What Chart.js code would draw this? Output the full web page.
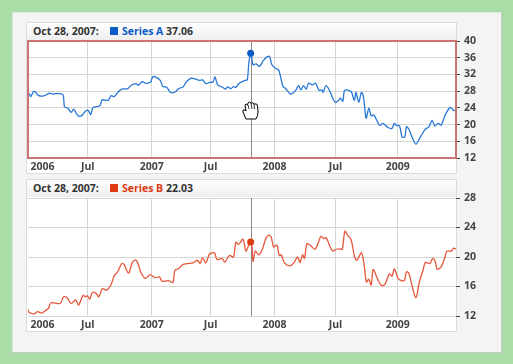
<!DOCTYPE html>
<html lang="en">
<head>
  <meta charset="UTF-8" />
  <title>Series A and B</title>
  <script src="https://cdn.jsdelivr.net/npm/chart.js"></script>
  <style>
    body { margin: 0; background: #aadca8; font-family: 'Open Sans', sans-serif; }
    #page {
      position: absolute; left: 12px; top: 12px; width: 488px; height: 339px;
      background: #f4f4f4; border: 1px solid #e2e6e2; border-right-color: #c8ccc8; border-bottom-color: #c8ccc8;
    }
    .panel { position: absolute; left: 26px; width: 429px; background: #fff; border: 1px solid #dcdcdc; box-sizing: content-box; }
    .head {
      position: absolute; left: 27px; width: 429px; height: 17px; line-height: 17px;
      background: linear-gradient(to bottom, #ffffff, #eeeeee); font-size: 10.5px; font-weight: bold; color: #333;
      white-space: nowrap;
    }
    .head .date { position: absolute; left: 6px; }
    .head .box { position: absolute; left: 83px; top: 4px; width: 8px; height: 8px; }
    .head .name { position: absolute; left: 95px; }
    canvas { position: absolute; left: 0; }
    #hand { position: absolute; left: 242px; top: 100px; }
  </style>
</head>
<body>
  <div id="page"></div>
  <div class="panel" style="top:22px;height:150px"></div>
  <div class="panel" style="top:179px;height:151px"></div>
  <div class="head" style="top:23px">
    <span class="date" id="dateA"></span><span class="box" style="background:#0a5cc8"></span>
    <span class="name"><span style="color:#0a5cc8">Series A</span> <span id="valA"></span></span>
  </div>
  <div class="head" style="top:180px">
    <span class="date" id="dateB"></span><span class="box" style="background:#dd3a12"></span>
    <span class="name"><span style="color:#dd3a12">Series B</span> <span id="valB"></span></span>
  </div>
  <canvas id="chartA" width="500" height="173" style="top:0"></canvas>
  <canvas id="chartB" width="500" height="151" style="top:180px"></canvas>
  <svg id="hand" width="18" height="20" viewBox="0 0 18 20">
    <path d="M4 19 L1 12 Q0 9 3 10 L4 11 L3 5 Q4 3 5.5 5 L6 3 Q7.5 1 9 3 L9.5 3 Q11 2 12 4 L13 4 Q15 3 15.5 6 L16 12 Q16 16 14 19 Z"
      fill="#fff" stroke="#000" stroke-width="1"/>
    <path d="M6 5 L7 9 M9 3 L10 9 M12 4 L12.5 9" stroke="#000" stroke-width="0.8" fill="none"/>
  </svg>

  <script>
    // x values are days counted from 1 Jan 2006
    const cursorDate = 'Oct 28, 2007:';
    const cursorDay = 659;
    const cursorA = 37.06;
    const cursorB = 22.03;

    const tickDays = [41, 175, 365, 540, 730, 911, 1096];
    const tickLabels = ['2006', 'Jul', '2007', 'Jul', '2008', 'Jul', '2009'];
    const ticksA = [12, 16, 20, 24, 28, 32, 36, 40];
    const ticksB = [12, 16, 20, 24, 28];

    const daysA = [-3, 1, 6, 14, 20, 28, 41, 51, 61, 71, 81, 101, 106, 116, 126, 133, 141, 148, 158, 168, 176, 184, 191, 211, 218, 236, 244, 254, 264, 276, 294, 304, 318, 326, 336, 346, 361, 368, 376, 391, 398, 409, 421,
      435, 445, 458, 468, 482, 495, 507, 516, 526, 537, 547, 553, 561, 574, 584, 591, 600, 608, 615, 625, 643, 649, 654, 659, 661, 666, 675, 685, 695, 707, 715, 722, 732, 742, 755, 762, 776, 782, 794, 801, 808, 816, 824, 831, 842,
      852, 862, 871, 874, 883, 893, 903, 911, 921, 926, 933, 938, 950, 958, 967, 972, 980, 988, 994, 1002, 1010, 1017, 1025, 1038, 1044, 1052, 1067, 1079, 1086, 1091, 1101, 1109, 1117, 1122, 1130, 1140, 1150, 1163, 1178, 1188, 1198, 1206, 1216, 1225, 1237, 1252, 1262, 1270];
    const valuesA = [27.1, 27.4, 26.7, 27.9, 27.8, 27, 26.8, 27.1, 27.5, 27.3, 27.4, 27.2, 24.3, 23.9, 22.9, 23.7, 22.7, 22, 22.2, 23.2, 23.4, 22.4, 24.1, 24.5, 25.9, 25.8, 26.9, 26.7, 27.7, 28.5, 28.6, 29.4, 29.8, 29.4, 30.3, 29.9, 30.1, 31.4, 31.4, 30.5, 29.1, 29, 27.7,
      27.8, 28.6, 29, 30.2, 31.1, 30.9, 30.6, 30.7, 29.8, 30.1, 30.2, 31.4, 29.5, 29, 28.5, 29, 28.6, 29.1, 28.9, 29.9, 30.6, 30.7, 35.1, 37.06, 36.9, 34.3, 34.5, 33.9, 35.1, 36.2, 36.3, 34.3, 33.5, 33.1, 29.1, 28.7, 27.4, 27.4, 28.3, 29.4, 28.3, 29.3, 28.5, 29.9, 29.5,
      29.9, 28.2, 28.3, 27.7, 29.3, 28.2, 26.3, 25.3, 25.9, 26.3, 25.6, 28.2, 28.2, 27.9, 25.8, 27.7, 25.3, 27.7, 26.7, 21.5, 23.9, 22.1, 22.3, 20.3, 19.8, 20.3, 19.3, 19.1, 20.3, 19.8, 19.7, 17, 17.1, 19.5, 18.7, 16.7, 15.3, 17, 18.9, 19.4, 21, 19.7, 20.3, 19.9, 22.3, 24.1, 23.4, 23.4];

    const daysB = [-3, 1, 16, 26, 38, 51, 58, 66, 93, 103, 113, 126, 139, 148, 161, 168, 174, 181, 189, 199, 208, 218, 231, 244, 254, 264, 276, 283, 296, 308, 318, 326, 333, 346, 361, 376, 388, 396, 414, 428,
      434, 445, 458, 470, 490, 501, 509, 516, 526, 537, 552, 559, 574, 582, 596, 608, 615, 623, 636, 645, 651, 659, 663, 666, 673, 683, 694, 704, 712, 720, 727, 737, 744, 750, 759, 776, 788, 798, 806, 813, 819, 826, 836,
      850, 860, 868, 876, 884, 893, 903, 913, 923, 931, 939, 948, 957, 968, 975, 988, 995, 1003, 1010, 1017, 1023, 1036, 1049, 1059, 1071, 1079, 1086, 1097, 1107, 1116, 1122, 1129, 1138, 1150, 1160, 1171, 1178, 1191, 1200, 1208, 1213, 1225, 1235, 1242, 1255, 1262, 1270];
    const valuesB = [12.95, 12.5, 12.3, 12.6, 12.4, 12.8, 13, 13.8, 13.7, 14.6, 14.5, 13.7, 14.2, 13.5, 14.8, 14.6, 14.75, 14.3, 15.2, 15.1, 14.6, 15.7, 15.5, 16.2, 17.5, 18, 19.1, 19, 17.8, 19.3, 19.6, 18.9, 17.9, 17.1, 17.6, 17.2, 17.3, 16.7, 16.8, 16.55,
      18.2, 18.4, 19, 19.1, 19.25, 19.56, 19.1, 19.9, 19.2, 20.4, 20.55, 19.65, 19.8, 19.3, 20.2, 20, 22, 21.7, 22.4, 20.8, 21.36, 22.03, 21.4, 19.4, 20.8, 20.3, 21.1, 22.5, 22.95, 22.7, 21.36, 21.6, 20.2, 20.3, 19.25, 18.8, 19.25, 20, 19.25, 20.3, 19.8, 21.8, 21.6,
      21.05, 21.95, 22.8, 22.5, 22.6, 21.6, 20.8, 21.05, 21.1, 21.05, 23.5, 22.9, 22.4, 20, 19.56, 20.6, 19.3, 16.6, 17, 16.2, 18.3, 17, 16.1, 16.4, 17.7, 17.4, 18.4, 17.1, 16.8, 16.86, 18, 17.8, 16.2, 14.5, 16.6, 18.2, 19.25, 19.1, 19.8, 19.3, 18.35, 18.66, 19.8, 20.8, 20.8, 21.2, 21.05];

    document.getElementById('dateA').textContent = cursorDate;
    document.getElementById('dateB').textContent = cursorDate;
    document.getElementById('valA').textContent = cursorA;
    document.getElementById('valB').textContent = cursorB;

    const gridColor = '#d3d8d3';
    const tickFont = { family: "'Open Sans', sans-serif", size: 10.5, weight: 'bold' };

    // vertical hair line at the cursor, plus the red frame on the active chart
    const overlay = {
      id: 'overlay',
      beforeDatasetsDraw(chart) {
        const a = chart.chartArea;
        const x = Math.round(chart.scales.x.getPixelForValue(cursorDay)) + 0.5;
        chart.ctx.save();
        chart.ctx.strokeStyle = '#8a8a8a';
        chart.ctx.lineWidth = 1;
        chart.ctx.beginPath();
        chart.ctx.moveTo(x, a.top);
        chart.ctx.lineTo(x, a.bottom);
        chart.ctx.stroke();
        chart.ctx.restore();
      },
      afterDraw(chart, args, opts) {
        if (!opts.frame) return;
        const a = chart.chartArea;
        chart.ctx.save();
        chart.ctx.strokeStyle = '#cc7474';
        chart.ctx.lineWidth = 2;
        chart.ctx.strokeRect(a.left, a.top, a.right - a.left, a.bottom - a.top);
        chart.ctx.restore();
      }
    };

    function makeChart(id, days, values, cursorValue, lineColor, dotColor, yMin, yMax, yTicks, top, frame) {
      return new Chart(document.getElementById(id), {
        type: 'line',
        data: {
          datasets: [
            {
              data: [{ x: cursorDay, y: cursorValue }],
              pointRadius: 3.5,
              pointBackgroundColor: dotColor,
              pointBorderWidth: 0,
              showLine: false,
              order: 0
            },
            {
              data: days.map((d, i) => ({ x: d, y: values[i] })),
              borderColor: lineColor,
              borderWidth: 1.3,
              pointRadius: 0,
              tension: 0.3,
              order: 1
            }
          ]
        },
        options: {
          responsive: false,
          animation: false,
          layout: { padding: { left: 28, top: top, right: 0, bottom: 0 } },
          plugins: { legend: { display: false }, tooltip: { enabled: false }, overlay: { frame: frame } },
          scales: {
            x: {
              type: 'linear',
              min: -2.4,
              max: 1269,
              afterBuildTicks: scale => { scale.ticks = tickDays.map(v => ({ value: v })); },
              afterFit: scale => { scale.height = 15; },
              border: { display: false },
              grid: {
                drawTicks: false,
                color: c => (c.index === 0 ? 'transparent' : gridColor)
              },
              ticks: {
                autoSkip: false,
                maxRotation: 0,
                padding: 3,
                color: '#444',
                font: tickFont,
                callback: (v, i) => tickLabels[i]
              }
            },
            y: {
              position: 'right',
              min: yMin,
              max: yMax,
              afterBuildTicks: scale => { scale.ticks = yTicks.map(v => ({ value: v })); },
              afterFit: scale => { scale.width = 44; },
              border: { display: false },
              grid: { color: gridColor, tickColor: '#444', tickLength: 4 },
              ticks: { padding: 4, color: '#444', font: tickFont }
            }
          }
        },
        plugins: [overlay]
      });
    }

    makeChart('chartA', daysA, valuesA, cursorA, '#2a78d8', '#0a5cc8', 12, 40, ticksA, 41, true);
    makeChart('chartB', daysB, valuesB, cursorB, '#e8573c', '#dd3a12', 12, 28, ticksB, 18, false);
  </script>
</body>
</html>
